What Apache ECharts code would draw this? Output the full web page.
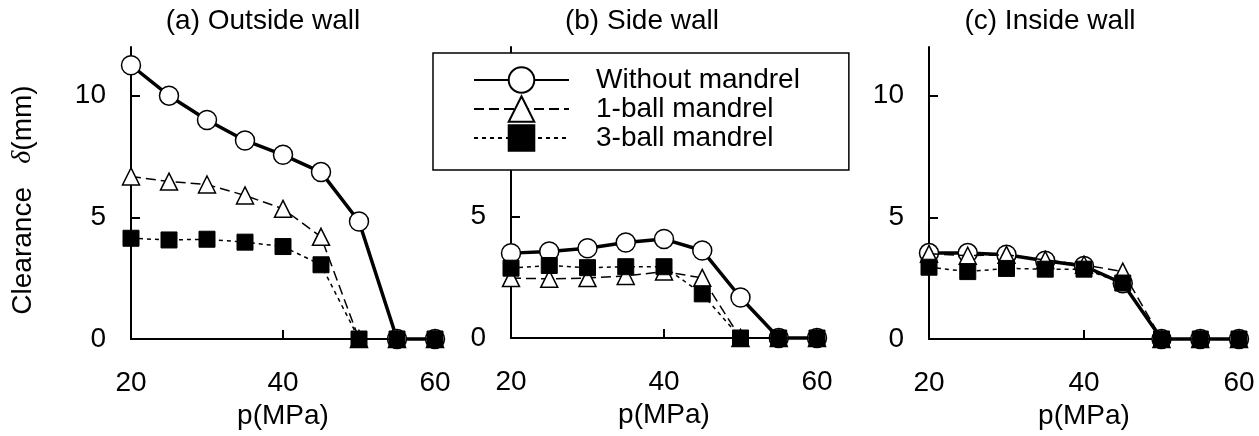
<!DOCTYPE html>
<html>
<head>
<meta charset="utf-8">
<script src="https://cdn.jsdelivr.net/npm/echarts@6/dist/echarts.min.js"></script>
<style>
html,body{margin:0;padding:0;background:#fff;}
#c{width:1259px;height:436px;}
</style>
</head>
<body>
<div id="c"></div>
<script>
// ---- data ----
const pressure = [20, 25, 30, 35, 40, 45, 50, 55, 60];
const seriesNames = ['Without mandrel', '1-ball mandrel', '3-ball mandrel'];
const panelTitles = ['(a) Outside wall', '(b) Side wall', '(c) Inside wall'];
const xTicks = [20, 40, 60];
const yTicks = [0, 5, 10];

// (a) Outside wall
const outsideWithout = [11.25, 10.0, 9.0, 8.16, 7.57, 6.86, 4.83, 0, 0];
const outsideOneBall = [6.68, 6.47, 6.35, 5.9, 5.35, 4.2, 0, 0, 0];
const outsideThreeBall = [4.14, 4.07, 4.1, 3.98, 3.8, 3.05, 0, 0, 0];
// (b) Side wall
const sideWithout = [3.5, 3.57, 3.7, 3.94, 4.08, 3.61, 1.67, 0, 0];
const sideOneBall = [2.47, 2.44, 2.47, 2.56, 2.74, 2.48, 0, 0, 0];
const sideThreeBall = [2.88, 2.99, 2.9, 2.94, 2.94, 1.82, 0, 0, 0];
// (c) Inside wall
const insideWithout = [3.53, 3.53, 3.46, 3.22, 3.0, 2.29, 0, 0, 0];
const insideOneBall = [3.5, 3.42, 3.46, 3.25, 3.05, 2.77, 0, 0, 0];
const insideThreeBall = [2.95, 2.77, 2.9, 2.87, 2.87, 2.3, 0, 0, 0];

const panels = [
  [outsideWithout, outsideOneBall, outsideThreeBall],
  [sideWithout, sideOneBall, sideThreeBall],
  [insideWithout, insideOneBall, insideThreeBall]
];

// ---- layout / style ----
const FONT = 'Liberation Sans';
const FS = 28;
const grids = [
  {left: 131, top: 47, width: 304, height: 292},
  {left: 511, top: 47, width: 306, height: 291},
  {left: 929, top: 47, width: 310, height: 292}
];
const titleCenters = [258, 637, 1045];

const styles = [
  {symbol: 'circle', symbolSize: 19, lineStyle: {color: '#000', width: 3.5, type: 'solid'},
   itemStyle: {color: '#fff', borderColor: '#000', borderWidth: 1.5}},
  {symbol: 'triangle', symbolSize: 17, lineStyle: {color: '#000', width: 1.5, type: [10, 5]},
   itemStyle: {color: '#fff', borderColor: '#000', borderWidth: 1.5}},
  {symbol: 'rect', symbolSize: 16, lineStyle: {color: '#000', width: 1.5, type: [4, 4]},
   itemStyle: {color: '#000', borderColor: '#000', borderWidth: 1}}
];

const xAxes = [], yAxes = [], series = [], titles = [];
panels.forEach((panel, gi) => {
  titles.push({
    text: panelTitles[gi], left: titleCenters[gi], top: 2, textAlign: 'center',
    textStyle: {fontFamily: FONT, fontSize: FS, fontWeight: 'normal', color: '#000'}
  });
  xAxes.push({
    type: 'value', gridIndex: gi, min: xTicks[0], max: xTicks[xTicks.length - 1], interval: 20,
    axisLine: {show: true, onZero: false, lineStyle: {color: '#000', width: 2}},
    axisTick: {show: true, inside: true, length: 9, lineStyle: {color: '#000', width: 2}},
    splitLine: {show: false},
    axisLabel: {color: '#000', fontFamily: FONT, fontSize: FS, margin: 30},
    name: 'p(MPa)', nameLocation: 'middle', nameGap: 59,
    nameTextStyle: {color: '#000', fontFamily: FONT, fontSize: FS}
  });
  const y = {
    type: 'value', gridIndex: gi, min: yTicks[0], max: 12, interval: 5,
    axisLine: {show: true, onZero: false, lineStyle: {color: '#000', width: 2}},
    axisTick: {show: true, inside: true, length: 9, lineStyle: {color: '#000', width: 2}},
    splitLine: {show: false},
    axisLabel: {color: '#000', fontFamily: FONT, fontSize: FS, margin: 25, showMaxLabel: false}
  };
  if (gi === 0) {
    y.name = '{n|Clearance   }{i|δ}{n|(mm)}';
    y.nameLocation = 'middle';
    y.nameRotate = 90;
    y.nameGap = 94;
    y.nameTextStyle = {
      color: '#000',
      padding: [0, 14, 0, 0],
      rich: {
        n: {fontFamily: FONT, fontSize: FS, color: '#000'},
        i: {fontFamily: 'Liberation Serif', fontStyle: 'italic', fontSize: FS, color: '#000'}
      }
    };
  }
  yAxes.push(y);
  panel.forEach((vals, si) => {
    const st = styles[si];
    series.push({
      name: seriesNames[si], type: 'line', xAxisIndex: gi, yAxisIndex: gi,
      data: pressure.map((p, k) => [p, vals[k]]),
      symbol: st.symbol, symbolSize: st.symbolSize, showAllSymbol: true,
      lineStyle: st.lineStyle, itemStyle: st.itemStyle,
      clip: false, animation: false, z: 2 + si,
      emphasis: {disabled: true}
    });
  });
});

const chart = echarts.init(document.getElementById('c'), null, {renderer: 'canvas'});
chart.setOption({
  backgroundColor: '#fff',
  animation: false,
  title: titles,
  grid: grids.map(g => Object.assign({containLabel: false, outerBoundsMode: 'none'}, g)),
  xAxis: xAxes,
  yAxis: yAxes,
  legend: {
    data: seriesNames,
    orient: 'vertical',
    left: 433, top: 53,
    padding: [13, 49, 18, 40],
    itemWidth: 95, itemHeight: 32, itemGap: 1,
    backgroundColor: '#fff', borderColor: '#000', borderWidth: 1.5, borderRadius: 0,
    selectedMode: false,
    textStyle: {fontFamily: FONT, fontSize: FS, color: '#000', padding: [0, 0, 0, 22]},
    z: 10
  },
  series: series
});
</script>
</body>
</html>
